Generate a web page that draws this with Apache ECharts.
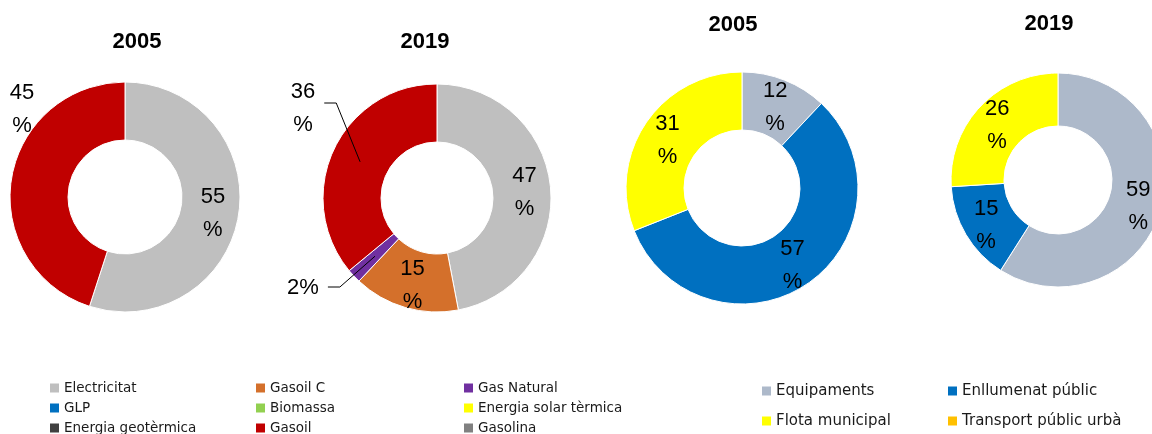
<!DOCTYPE html>
<html>
<head>
<meta charset="utf-8">
<script src="https://cdn.jsdelivr.net/npm/echarts@6/dist/echarts.min.js"></script>
<style>
  html, body { margin: 0; padding: 0; background: #fff; }
  #chart { width: 1152px; height: 434px; }
</style>
</head>
<body>
<div id="chart"></div>
<script>
// Energy consumption shares by source and by municipal sector, 2005 vs 2019
const years = ['2005', '2019'];

const fuelNames = ['Electricitat', 'Gasoil C', 'Gas Natural', 'GLP', 'Biomassa',
  'Energia solar tèrmica', 'Energia geotèrmica', 'Gasoil', 'Gasolina'];
const fuel2005 = [55, 0, 0, 0, 0, 0, 0, 45, 0];
const fuel2019 = [47, 15, 2, 0, 0, 0, 0, 36, 0];

const sectorNames = ['Equipaments', 'Enllumenat públic', 'Flota municipal', 'Transport públic urbà'];
const sector2005 = [12, 57, 31, 0];
const sector2019 = [59, 15, 26, 0];

const fuelColors = ['#BFBFBF', '#D4702B', '#7030A0', '#0070C0', '#92D050',
  '#FFFF00', '#404040', '#C00000', '#808080'];
const sectorColors = ['#ADB9CA', '#0070C0', '#FFFF00', '#FFC000'];

// doughnut geometry
const pies = [
  { center: [125, 197], radius: [57, 115] },
  { center: [437, 198], radius: [56, 114] },
  { center: [742, 188], radius: [58, 116] },
  { center: [1058, 180], radius: [54, 107] }
];
const titlePos = [[137, 42], [425, 42], [733, 25], [1049, 24]];

const labelFont = 'Liberation Sans';
const legendFont = 'DejaVu Sans';

function items(names, values, overrides) {
  return names.map(function (n, i) {
    const it = { name: n, value: values[i] };
    if (!(values[i] > 0)) it.itemStyle = { borderWidth: 0 };
    if (overrides && overrides[n]) Object.assign(it, overrides[n]);
    return it;
  });
}

// keep the library's mid-ring label position, just a touch lower
function nudged(p) {
  return {
    x: p.labelRect.x + p.labelRect.width / 2,
    y: p.labelRect.y + p.labelRect.height / 2 + 3,
    align: 'center', verticalAlign: 'middle'
  };
}

function baseSeries(idx, names, values, colors, overrides) {
  return {
    type: 'pie',
    center: pies[idx].center,
    radius: pies[idx].radius,
    startAngle: 90,
    clockwise: true,
    avoidLabelOverlap: false,
    minShowLabelAngle: 1,
    color: colors,
    silent: true,
    itemStyle: { borderColor: '#ffffff', borderWidth: 1 },
    label: {
      show: true,
      position: 'inside',
      formatter: '{c}\n%',
      color: '#000',
      fontFamily: labelFont,
      fontSize: 22,
      lineHeight: 33
    },
    labelLine: { show: false },
    labelLayout: nudged,
    data: items(names, values, overrides)
  };
}

// 2005 fuels: Gasoil label sits outside the ring, top-left
const s0 = baseSeries(0, fuelNames, fuel2005, fuelColors);
s0.labelLayout = function (p) {
  if (fuelNames[p.dataIndex] === 'Gasoil') {
    return { x: pies[0].center[0] - 103, y: pies[0].center[1] - 88, align: 'center', verticalAlign: 'middle' };
  }
  return nudged(p);
};

// 2019 fuels: two labels moved aside, joined by leader lines to the slice middle
const s1 = baseSeries(1, fuelNames, fuel2019, fuelColors, {
  'Electricitat': { label: { position: 'inside' } },
  'Gasoil C': { label: { position: 'inside' } },
  'Gas Natural': { label: { formatter: '{c}%' } }
});
s1.label.position = 'outside';
s1.labelLine = { show: false, length: 10, length2: 10 };
const shifted2019 = { 'Gasoil': [-134, -90, -5], 'Gas Natural': [-134, 90, -1] };
const leaderLines = {};
s1.labelLayout = function (p) {
  const name = fuelNames[p.dataIndex];
  const s = shifted2019[name];
  if (!s || !p.labelLinePoints) return nudged(p);
  const c = pies[1].center, r0 = pies[1].radius[0], r = pies[1].radius[1];
  // first guide point lies on the outer edge at the slice's mid-angle
  const p0 = p.labelLinePoints[0];
  const nx = (p0[0] - c[0]) / r, ny = (p0[1] - c[1]) / r;
  const rm = (r + r0) / 2;
  const ax = c[0] + nx * rm, ay = c[1] + ny * rm;
  const lx = c[0] + s[0], ly = c[1] + s[1];
  const startX = lx + p.labelRect.width / 2 + 9;
  const lineY = ly + s[2];
  leaderLines[name] = [[startX, lineY], [startX + 12, lineY], [ax, ay]];
  return { x: lx, y: ly, align: 'center', verticalAlign: 'middle' };
};

const s2 = baseSeries(2, sectorNames, sector2005, sectorColors);
const s3 = baseSeries(3, sectorNames, sector2019, sectorColors);

function legendCol(names, left, top, gap, fontSize, lh) {
  return {
    data: names,
    orient: 'vertical',
    left: left,
    top: top,
    height: 120,
    padding: 0,
    itemGap: gap,
    itemWidth: 9,
    itemHeight: 9,
    icon: 'rect',
    itemStyle: { borderWidth: 0 },
    selectedMode: false,
    textStyle: { fontFamily: legendFont, fontSize: fontSize, color: '#1a1a1a', lineHeight: lh }
  };
}
const fuelCols = [0, 1, 2].map(function (k) {
  return fuelNames.filter(function (_, i) { return i % 3 === k; });
});
const sectorCols = [0, 1].map(function (k) {
  return sectorNames.filter(function (_, i) { return i % 2 === k; });
});

const titleYears = [years[0], years[1], years[0], years[1]];

const option = {
  animation: false,
  backgroundColor: '#ffffff',
  graphic: titleYears.map(function (t, i) {
    return {
      id: 'title' + i,
      type: 'text',
      x: titlePos[i][0],
      y: titlePos[i][1],
      silent: true,
      style: {
        text: t, align: 'center', verticalAlign: 'middle',
        fontFamily: labelFont, fontWeight: 'bold', fontSize: 22, fill: '#000'
      }
    };
  }),
  legend: [
    legendCol(fuelCols[0], 50, 381, 6, 13.5, 14),
    legendCol(fuelCols[1], 256, 381, 6, 13.5, 14),
    legendCol(fuelCols[2], 464, 381, 6, 13.5, 14),
    legendCol(sectorCols[0], 762, 383, 14, 15, 16),
    legendCol(sectorCols[1], 948, 383, 14, 15, 16)
  ],
  series: [s0, s1, s2, s3]
};

const chart = echarts.init(document.getElementById('chart'), null, { renderer: 'canvas' });
chart.setOption(option);

// leader lines drawn above the ring
chart.setOption({
  graphic: Object.keys(leaderLines).map(function (name, i) {
    return {
      id: 'leader' + i,
      type: 'polyline',
      silent: true,
      z: 100,
      shape: { points: leaderLines[name] },
      style: { stroke: '#000', lineWidth: 1, fill: null }
    };
  })
});
</script>
</body>
</html>
